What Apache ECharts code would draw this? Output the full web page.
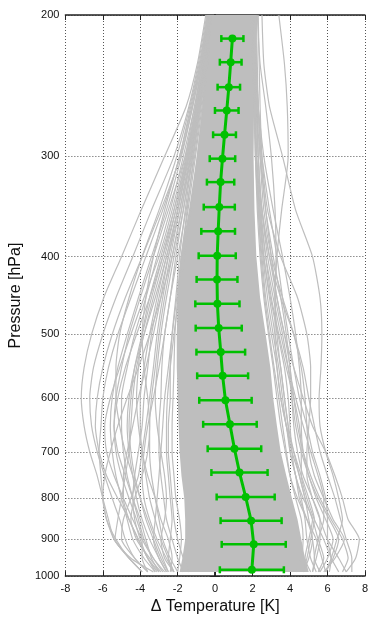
<!DOCTYPE html>
<html>
<head>
<meta charset="utf-8">
<script src="https://cdn.jsdelivr.net/npm/echarts@6/dist/echarts.min.js"></script>
<style>
  html, body { margin: 0; padding: 0; background: #ffffff; }
  #chart { width: 371px; height: 620px; }
</style>
</head>
<body>
<div id="chart"></div>
<script>
// Pressure levels (hPa) used for the grid and tick labels
const pressureTicks = [200, 300, 400, 500, 600, 700, 800, 900, 1000];

// Ensemble mean temperature change and its standard deviation per level
const meanLevels = [214, 229, 246, 263, 282, 302, 323, 347, 372, 399, 427, 458, 491, 526, 563, 604, 647, 694, 743, 797, 853, 913, 982];
const meanDelta  = [0.92, 0.83, 0.73, 0.62, 0.50, 0.39, 0.29, 0.22, 0.16, 0.11, 0.10, 0.12, 0.19, 0.30, 0.40, 0.55, 0.79, 1.03, 1.30, 1.63, 1.92, 2.06, 1.96];
const stdDelta   = [0.59, 0.58, 0.60, 0.63, 0.61, 0.68, 0.73, 0.83, 0.90, 0.99, 1.09, 1.18, 1.23, 1.30, 1.36, 1.40, 1.43, 1.43, 1.50, 1.55, 1.63, 1.71, 1.71];

// Levels at which the individual member profiles are given
const profileLevels = [200, 230, 260, 300, 350, 400, 450, 500, 550, 600, 650, 700, 750, 800, 850, 900, 950, 988];

// Envelope of the densely packed bulk of the members
const coreLeft  = [-0.38, -0.52, -0.68, -0.98, -1.4, -1.85, -2.0, -2.05, -2.05, -2.0, -1.95, -1.9, -1.8, -1.65, -1.6, -1.6, -1.75, -1.9];
const coreRight = [2.08, 2.08, 2.08, 2.05, 2.1, 2.2, 2.4, 2.7, 2.95, 3.1, 3.3, 3.5, 3.8, 4.1, 4.4, 4.6, 4.8, 5.0];

// Individual members spreading outside the bulk, cold side
const coldMembers = [
  [-0.5, -0.95, -1.55, -2.7, -3.95, -5.0, -5.95, -6.6, -7.0, -7.15, -7.0, -6.7, -6.3, -6.0, -5.7, -5.4, -4.6, -3.9],
  [-0.45, -0.9, -1.4, -2.2, -3.4, -4.4, -5.3, -6.0, -6.5, -6.7, -6.6, -6.3, -5.9, -5.5, -5.1, -4.8, -4.3, -3.6],
  [-0.4, -0.8, -1.3, -1.9, -2.8, -3.7, -4.5, -5.2, -5.7, -6.0, -6.1, -6.2, -6.1, -6.0, -5.8, -5.4, -4.6, -3.9],
  [-0.4, -0.75, -1.2, -1.8, -2.6, -3.4, -4.1, -4.7, -5.2, -5.5, -5.6, -5.5, -5.3, -5.0, -4.7, -4.4, -3.8, -3.2],
  [-0.3, -0.7, -1.1, -1.7, -2.4, -3.1, -3.7, -4.3, -4.7, -5.0, -5.0, -4.9, -4.7, -4.4, -4.1, -3.8, -3.3, -2.8],
  [-0.3, -0.65, -1.0, -1.5, -2.2, -2.8, -3.4, -3.9, -4.3, -4.5, -4.6, -4.5, -4.3, -4.0, -3.7, -3.3, -2.9, -2.5],
  [-0.3, -0.6, -0.95, -1.4, -2.0, -2.6, -3.1, -3.5, -3.8, -4.0, -4.0, -3.9, -3.7, -3.5, -3.2, -2.9, -2.5, -2.2],
  [-0.25, -0.55, -0.9, -1.3, -1.8, -2.3, -2.7, -3.0, -3.2, -3.4, -3.5, -3.5, -3.4, -3.2, -3.0, -2.8, -2.4, -2.0],
  [-0.25, -0.5, -0.85, -1.25, -1.7, -2.1, -2.4, -2.7, -2.85, -2.9, -3.0, -3.0, -2.9, -2.75, -2.6, -2.3, -2.0, -1.7],
  [-0.2, -0.5, -0.8, -1.2, -1.6, -1.9, -2.1, -2.3, -2.4, -2.4, -2.5, -2.5, -2.4, -2.3, -2.2, -2.0, -1.7, -1.4],
  [-0.3, -0.6, -0.9, -1.3, -1.8, -2.3, -2.9, -3.5, -4.1, -4.7, -5.2, -5.6, -5.9, -6.0, -5.8, -5.3, -4.6, -3.9],
  [-0.35, -0.7, -1.1, -1.6, -2.3, -3.0, -3.8, -4.5, -5.1, -5.6, -5.9, -5.8, -5.4, -4.9, -4.4, -3.9, -3.3, -2.7],
  [-0.3, -0.6, -1.0, -1.5, -2.1, -2.7, -3.3, -3.8, -4.2, -4.4, -4.5, -4.6, -4.8, -5.0, -5.2, -5.35, -4.5, -3.3],
  [-0.25, -0.55, -0.9, -1.4, -2.0, -2.6, -3.2, -3.8, -4.3, -4.6, -4.7, -4.6, -4.4, -4.2, -3.9, -3.5, -3.0, -2.6],
  [-0.2, -0.45, -0.7, -1.05, -1.45, -1.8, -2.0, -2.15, -2.2, -2.25, -2.3, -2.3, -2.2, -2.1, -1.9, -1.8, -1.9, -2.0],
  [-0.35, -0.7, -1.05, -1.55, -2.2, -2.9, -3.5, -3.9, -4.1, -4.2, -4.1, -3.9, -3.6, -3.2, -2.9, -2.5, -2.3, -2.4],
  [-0.4, -0.8, -1.25, -1.9, -2.7, -3.3, -3.7, -3.9, -3.8, -3.6, -3.5, -3.6, -3.9, -4.3, -4.5, -4.2, -3.5, -2.9],
  [-0.3, -0.6, -1.0, -1.6, -2.5, -3.3, -4.0, -4.6, -5.0, -5.3, -5.4, -5.2, -4.8, -4.4, -4.0, -3.7, -3.4, -3.0],
  [-0.35, -0.65, -1.0, -1.45, -2.0, -2.5, -2.9, -3.3, -3.7, -4.1, -4.4, -4.7, -4.9, -4.9, -4.6, -4.1, -3.6, -3.2],
  [-0.25, -0.5, -0.8, -1.2, -1.7, -2.2, -2.6, -2.9, -3.1, -3.2, -3.1, -2.9, -2.7, -2.6, -2.7, -2.9, -2.7, -2.2],
  [-0.3, -0.55, -0.85, -1.3, -1.9, -2.5, -3.0, -3.4, -3.6, -3.8, -3.9, -4.1, -4.3, -4.4, -4.3, -4.0, -3.6, -3.0],
  [-0.4, -0.85, -1.35, -2.05, -3.0, -3.9, -4.6, -5.1, -5.3, -5.3, -5.1, -4.8, -4.4, -4.0, -3.6, -3.2, -2.8, -2.5],
  [-0.2, -0.45, -0.75, -1.1, -1.55, -2.0, -2.4, -2.7, -3.0, -3.3, -3.6, -3.8, -3.9, -3.8, -3.5, -3.1, -2.6, -2.2],
  [-0.3, -0.6, -0.95, -1.45, -2.1, -2.8, -3.5, -4.2, -4.8, -5.2, -5.4, -5.3, -5.0, -4.6, -4.2, -3.9, -3.9, -3.6],
  [-0.25, -0.5, -0.8, -1.15, -1.5, -1.8, -2.05, -2.3, -2.5, -2.7, -2.8, -2.9, -3.0, -3.1, -3.2, -3.3, -3.0, -2.6],
  [-0.35, -0.75, -1.2, -1.85, -2.9, -3.9, -4.8, -5.5, -6.0, -6.3, -6.4, -6.2, -5.8, -5.2, -4.6, -4.1, -3.6, -3.1],
  [-0.3, -0.6, -0.9, -1.35, -1.9, -2.4, -2.8, -3.1, -3.3, -3.5, -3.7, -3.9, -4.1, -4.5, -4.9, -5.0, -4.3, -3.6],
  [-0.2, -0.4, -0.65, -0.95, -1.3, -1.65, -1.95, -2.2, -2.4, -2.55, -2.6, -2.6, -2.5, -2.4, -2.3, -2.4, -2.5, -2.3]
];

// Individual members spreading outside the bulk, warm side
const warmMembers = [
  [2.5, 2.6, 2.9, 3.6, 4.3, 5.2, 5.6, 5.7, 5.65, 5.55, 5.6, 5.9, 6.3, 6.6, 6.8, 6.5, 6.2, 5.9],
  [3.4, 3.7, 3.85, 3.9, 3.55, 3.3, 3.2, 3.3, 3.5, 3.7, 3.9, 4.2, 4.5, 4.8, 5.0, 5.2, 5.3, 5.2],
  [2.16, 2.2, 2.25, 2.3, 2.5, 2.9, 3.5, 4.2, 4.7, 5.0, 5.3, 5.6, 6.0, 6.4, 6.7, 7.0, 7.3, 7.3],
  [2.0, 2.1, 2.2, 2.4, 2.7, 3.0, 3.3, 3.7, 4.2, 4.7, 5.2, 5.9, 6.4, 6.8, 7.1, 7.7, 7.5, 7.0],
  [2.1, 2.2, 2.3, 2.5, 2.9, 3.3, 3.6, 3.9, 4.2, 4.5, 4.9, 5.2, 5.6, 5.9, 6.0, 6.0, 6.2, 6.1],
  [2.0, 2.05, 2.1, 2.2, 2.5, 2.9, 3.3, 3.7, 4.0, 4.1, 4.2, 4.4, 4.7, 5.2, 5.6, 5.6, 5.4, 5.2],
  [1.9, 2.0, 2.1, 2.2, 2.4, 2.6, 2.9, 3.2, 3.5, 3.7, 3.9, 4.0, 4.3, 4.5, 4.9, 5.2, 5.0, 4.7],
  [2.0, 2.1, 2.3, 2.6, 3.1, 3.6, 4.0, 4.3, 4.5, 4.6, 4.6, 4.7, 5.0, 5.5, 6.1, 6.6, 6.3, 5.9],
  [2.3, 2.35, 2.4, 2.5, 2.8, 3.5, 4.4, 4.9, 5.1, 5.1, 5.0, 4.9, 4.9, 5.2, 5.6, 6.0, 6.6, 7.0],
  [2.1, 2.15, 2.2, 2.3, 2.45, 2.7, 3.0, 3.4, 3.8, 4.2, 4.5, 4.6, 4.6, 4.9, 5.3, 5.8, 6.2, 6.6],
  [2.1, 2.1, 2.15, 2.2, 2.3, 2.5, 2.7, 3.0, 3.3, 3.5, 3.8, 4.0, 4.3, 4.6, 4.8, 4.9, 5.1, 5.4],
  [2.05, 2.1, 2.1, 2.15, 2.3, 2.45, 2.65, 2.9, 3.15, 3.4, 3.6, 3.8, 4.0, 4.3, 4.6, 4.7, 4.6, 4.3],
  [2.1, 2.15, 2.2, 2.3, 2.5, 2.8, 3.2, 3.6, 3.9, 4.1, 4.3, 4.6, 5.0, 5.4, 5.9, 6.3, 6.0, 5.6],
  [2.05, 2.1, 2.15, 2.2, 2.35, 2.55, 2.8, 3.1, 3.4, 3.6, 3.8, 4.1, 4.5, 4.8, 5.2, 5.5, 5.8, 5.5],
  [2.2, 2.25, 2.3, 2.4, 2.6, 3.0, 3.6, 4.2, 4.6, 4.8, 4.9, 5.0, 5.3, 5.8, 6.3, 6.9, 6.4, 5.8],
  [2.0, 2.05, 2.1, 2.15, 2.25, 2.4, 2.6, 2.85, 3.1, 3.3, 3.5, 3.75, 4.0, 4.4, 4.9, 5.4, 5.7, 5.9],
  [2.1, 2.1, 2.15, 2.2, 2.35, 2.6, 2.95, 3.35, 3.7, 3.9, 4.0, 4.1, 4.3, 4.7, 5.2, 5.0, 4.8, 5.1],
  [2.15, 2.2, 2.3, 2.45, 2.7, 3.1, 3.5, 3.8, 4.0, 4.2, 4.4, 4.7, 5.1, 5.6, 6.2, 6.8, 7.1, 6.8],
  [2.0, 2.05, 2.1, 2.2, 2.4, 2.7, 3.1, 3.5, 3.9, 4.3, 4.7, 5.1, 5.5, 5.8, 5.8, 5.5, 5.3, 5.6],
  [2.25, 2.4, 2.7, 3.0, 3.2, 3.25, 3.2, 3.2, 3.3, 3.5, 3.8, 4.2, 4.6, 5.0, 5.3, 5.1, 4.9, 4.7]
];

const GRAY = '#bebebe';
const GREEN = '#00c000';
const FONT = 'Liberation Sans, Arial, sans-serif';

const chart = echarts.init(document.getElementById('chart'), null, { renderer: 'canvas' });

// One thin gray line per ensemble member
const memberSeries = coldMembers.concat(warmMembers).map(function (vals) {
  return {
    type: 'line',
    data: vals.map(function (v, i) { return [v, profileLevels[i]]; }),
    showSymbol: false,
    symbol: 'none',
    smooth: 0.2,
    lineStyle: { color: GRAY, width: 1.2 },
    silent: true,
    z: 2
  };
});

// Solid fill for the bulk of the members
const coreSeries = {
  type: 'custom',
  data: [[0]],
  silent: true,
  z: 1,
  renderItem: function (params, api) {
    const pts = [];
    for (let i = 0; i < profileLevels.length; i++) {
      pts.push(api.coord([coreLeft[i], profileLevels[i]]));
    }
    for (let i = profileLevels.length - 1; i >= 0; i--) {
      pts.push(api.coord([coreRight[i], profileLevels[i]]));
    }
    return { type: 'polygon', shape: { points: pts }, style: { fill: GRAY } };
  }
};

// Horizontal error bars (mean ± standard deviation) with end caps
const errorSeries = {
  type: 'custom',
  data: meanDelta.map(function (m, i) { return [m, meanLevels[i], stdDelta[i]]; }),
  z: 5,
  renderItem: function (params, api) {
    const m = api.value(0), p = api.value(1), s = api.value(2);
    const a = api.coord([m - s, p]);
    const b = api.coord([m + s, p]);
    const h = 3.5;
    const st = { stroke: GREEN, lineWidth: 2.5 };
    return {
      type: 'group',
      children: [
        { type: 'line', shape: { x1: a[0], y1: a[1], x2: b[0], y2: b[1] }, style: st },
        { type: 'line', shape: { x1: a[0], y1: a[1] - h, x2: a[0], y2: a[1] + h }, style: st },
        { type: 'line', shape: { x1: b[0], y1: b[1] - h, x2: b[0], y2: b[1] + h }, style: st }
      ]
    };
  }
};

const meanSeries = {
  type: 'line',
  data: meanDelta.map(function (m, i) { return [m, meanLevels[i]]; }),
  symbol: 'circle',
  symbolSize: 8,
  showAllSymbol: true,
  itemStyle: { color: GREEN },
  lineStyle: { color: GREEN, width: 3 },
  z: 6
};

const frameLine = { show: true, lineStyle: { color: '#222', width: 1.5 } };
const gridLine = { show: true, lineStyle: { color: '#555', width: 1, type: [1, 2] } };

chart.setOption({
  animation: false,
  backgroundColor: '#ffffff',
  grid: { left: 63, right: 4, top: 15, bottom: 41, containLabel: false },
  xAxis: [
    {
      type: 'value', min: -8, max: 8, interval: 2, position: 'bottom',
      axisLine: frameLine,
      axisTick: { show: true, inside: true, length: 5, lineStyle: { color: '#222', width: 1 } },
      axisLabel: { fontFamily: FONT, fontSize: 11, color: '#111', margin: 7 },
      splitLine: gridLine,
      name: 'Δ Temperature [K]', nameLocation: 'middle', nameGap: 21,
      nameTextStyle: { fontFamily: FONT, fontSize: 16, color: '#111' }
    },
    {
      type: 'value', min: -8, max: 8, interval: 2, position: 'top',
      axisLine: frameLine,
      axisTick: { show: true, inside: true, length: 5, lineStyle: { color: '#222', width: 1 } },
      axisLabel: { show: false },
      splitLine: { show: false }
    }
  ],
  yAxis: [
    {
      type: 'log', logBase: 10, min: 200, max: 1000, inverse: true, position: 'left',
      axisLine: frameLine,
      axisTick: { show: true, inside: true, length: 5, customValues: pressureTicks, lineStyle: { color: '#222', width: 1 } },
      axisLabel: {
        customValues: pressureTicks, fontFamily: FONT, fontSize: 11, color: '#111', margin: 6,
        formatter: function (v) { return String(Math.round(v)); }
      },
      splitLine: gridLine,
      minorTick: { show: false },
      name: 'Pressure [hPa]', nameLocation: 'middle', nameGap: 36,
      nameTextStyle: { fontFamily: FONT, fontSize: 16, color: '#111' }
    },
    {
      type: 'log', logBase: 10, min: 200, max: 1000, inverse: true, position: 'right',
      axisLine: frameLine,
      axisTick: { show: true, inside: true, length: 5, customValues: pressureTicks, lineStyle: { color: '#222', width: 1 } },
      axisLabel: { show: false },
      splitLine: { show: false }
    }
  ],
  series: [coreSeries].concat(memberSeries, [errorSeries, meanSeries])
});
</script>
</body>
</html>
